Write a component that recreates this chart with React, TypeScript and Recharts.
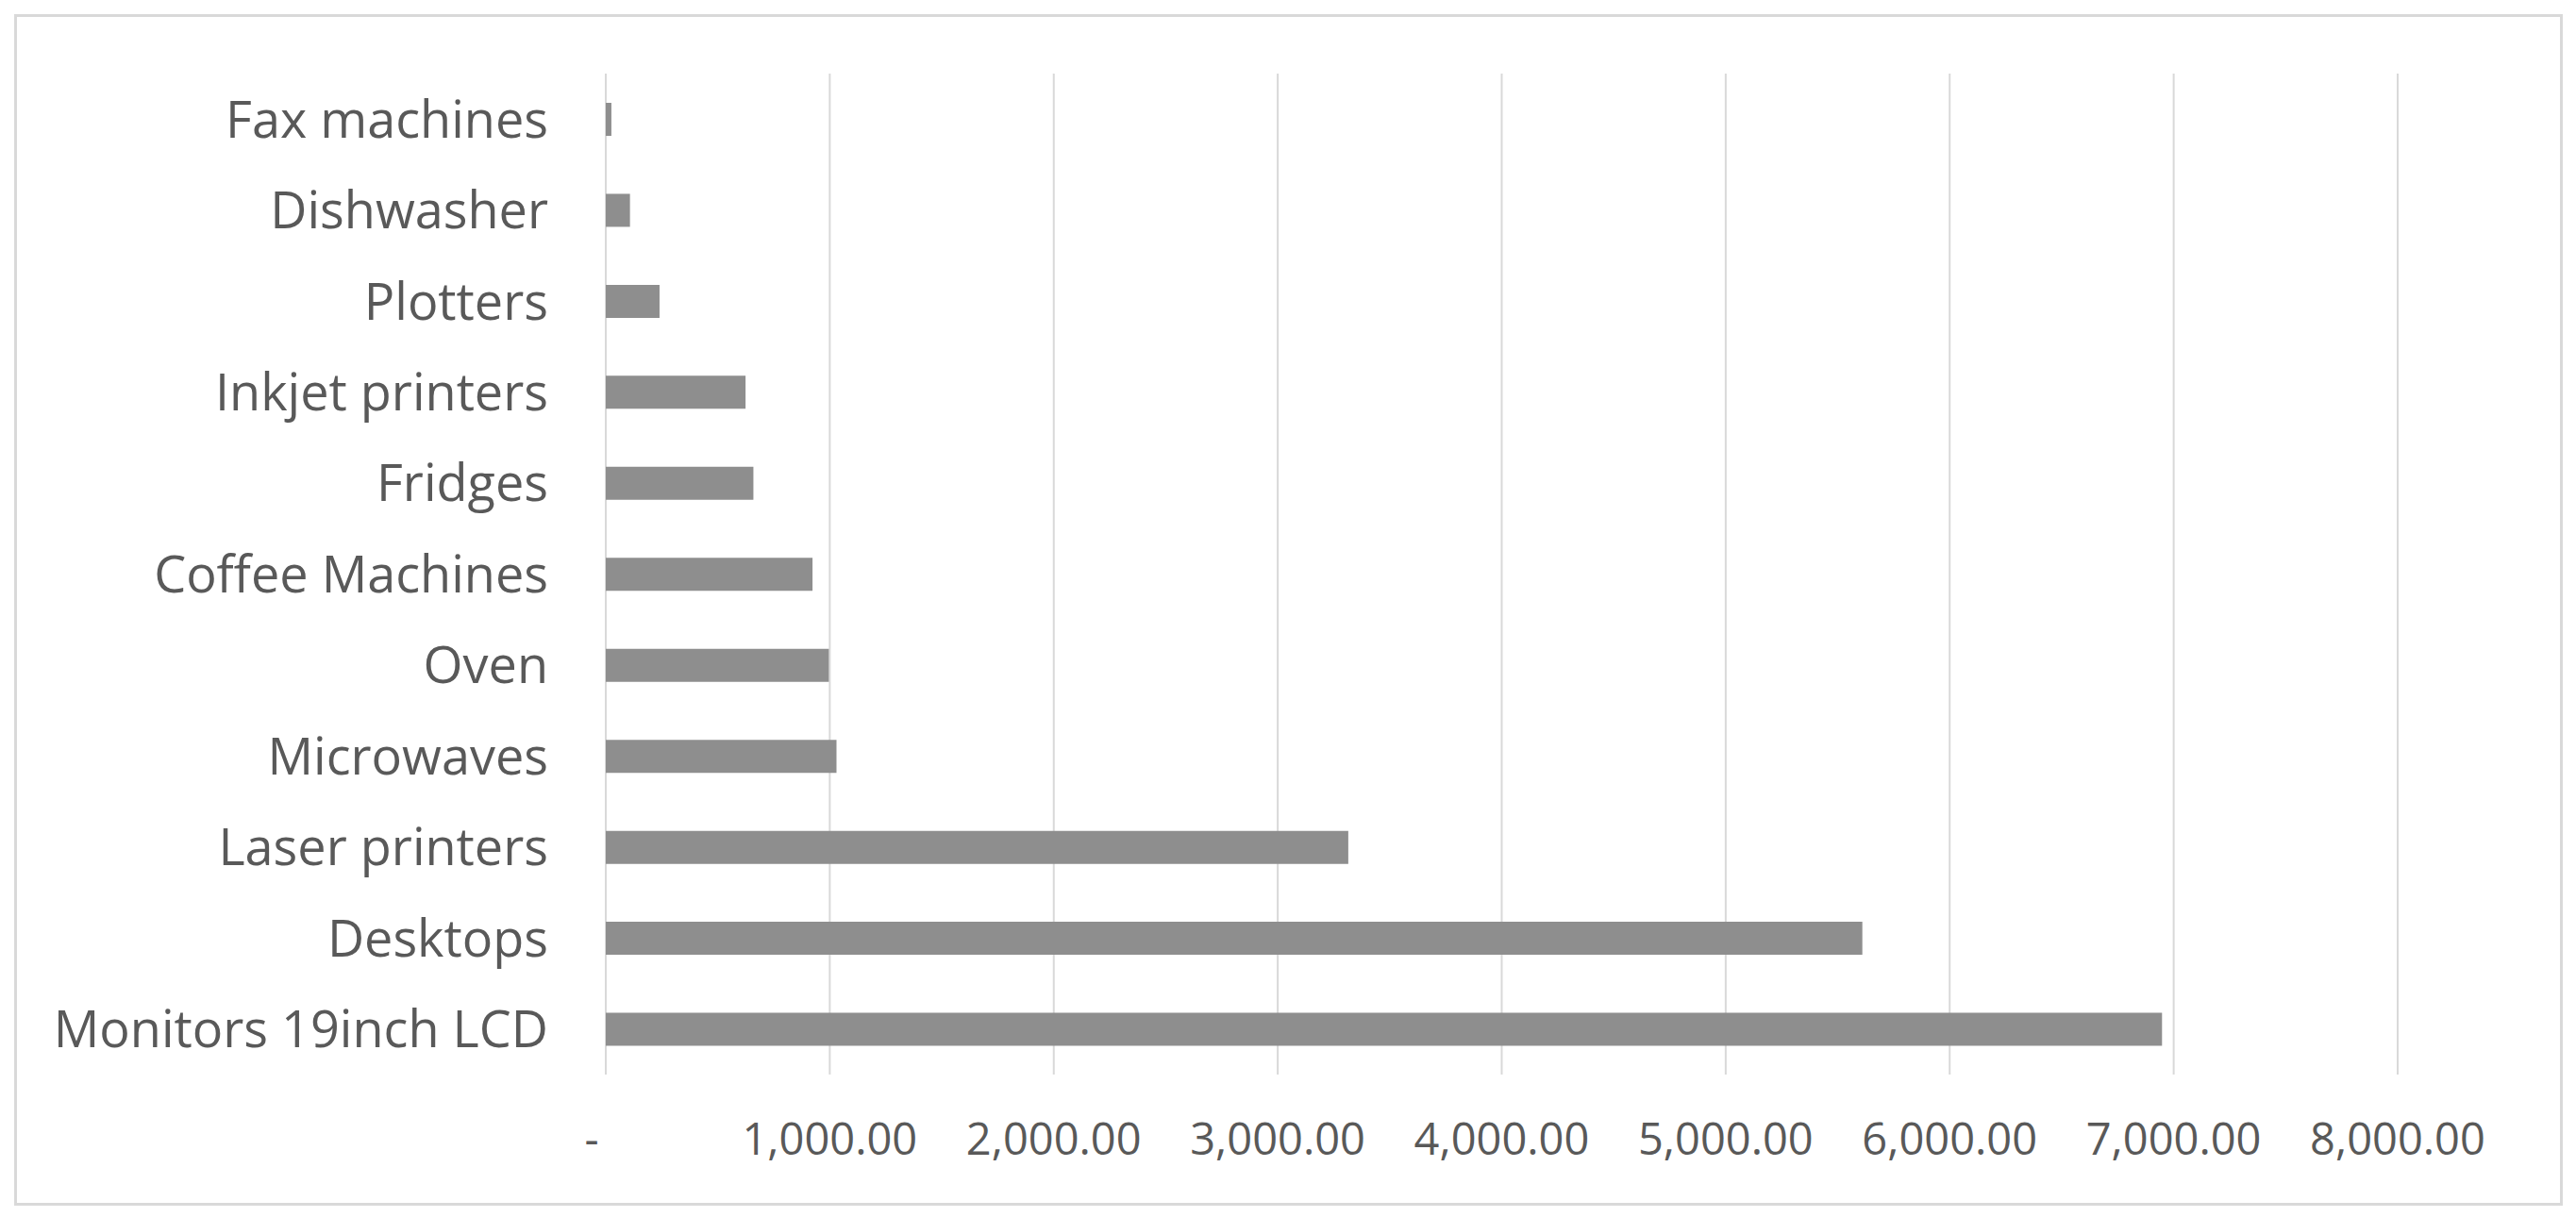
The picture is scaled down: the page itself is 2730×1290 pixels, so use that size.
import { BarChart, Bar, XAxis, YAxis, CartesianGrid } from 'recharts';

const categories = [
  'Fax machines',
  'Dishwasher',
  'Plotters',
  'Inkjet printers',
  'Fridges',
  'Coffee Machines',
  'Oven',
  'Microwaves',
  'Laser printers',
  'Desktops',
  'Monitors 19inch LCD',
];

const amounts = [25, 108, 240, 624, 659, 923, 996, 1030, 3315, 5610, 6948];

const xTicks = [0, 1000, 2000, 3000, 4000, 5000, 6000, 7000, 8000];

const data = categories.map((name, i) => ({ name, amount: amounts[i] }));

const FONT = '"Open Sans", sans-serif';
const TEXT = '#595959';

function formatTick(v: number) {
  if (v === 0) return '-';
  return v.toLocaleString('en-US', { minimumFractionDigits: 2, maximumFractionDigits: 2 });
}

function XTick(props: any) {
  const { x, y, payload } = props;
  const shift = payload.value === 0 ? -15 : 0;
  return (
    <text x={x + shift} y={y + 85} textAnchor="middle" fill={TEXT} fontSize={47} fontFamily={FONT}>
      {formatTick(payload.value)}
    </text>
  );
}

function YTick(props: any) {
  const { x, y, payload } = props;
  return (
    <text x={x - 61} y={y} dy="0.36em" textAnchor="end" fill={TEXT} fontSize={54} fontFamily={FONT}>
      {payload.value}
    </text>
  );
}

export default function App() {
  return (
    <div style={{ position: 'absolute', left: 0, top: 0, width: 2730, height: 1290, background: '#fff' }}>
      <div
        style={{
          position: 'absolute',
          left: 15,
          top: 15,
          width: 2695,
          height: 1257,
          border: '3px solid #d9d9d9',
        }}
      />
      <div style={{ position: 'absolute', left: 0, top: 0 }}>
        <BarChart
          width={2730}
          height={1290}
          data={data}
          layout="vertical"
          margin={{ top: 78, right: 189, left: 42, bottom: 0 }}
        >
          <CartesianGrid horizontal={false} stroke="#d9d9d9" strokeWidth={2} />
          <XAxis
            type="number"
            domain={[0, 8000]}
            ticks={xTicks}
            height={151}
            axisLine={false}
            tickLine={false}
            tickSize={0}
            tickMargin={0}
            tick={<XTick />}
            interval={0}
          />
          <YAxis
            type="category"
            dataKey="name"
            width={600}
            axisLine={false}
            tickLine={false}
            tickSize={0}
            tickMargin={0}
            tick={<YTick />}
            interval={0}
          />
          <Bar dataKey="amount" fill="#8e8e8e" barSize={35} isAnimationActive={false} />
        </BarChart>
      </div>
    </div>
  );
}
